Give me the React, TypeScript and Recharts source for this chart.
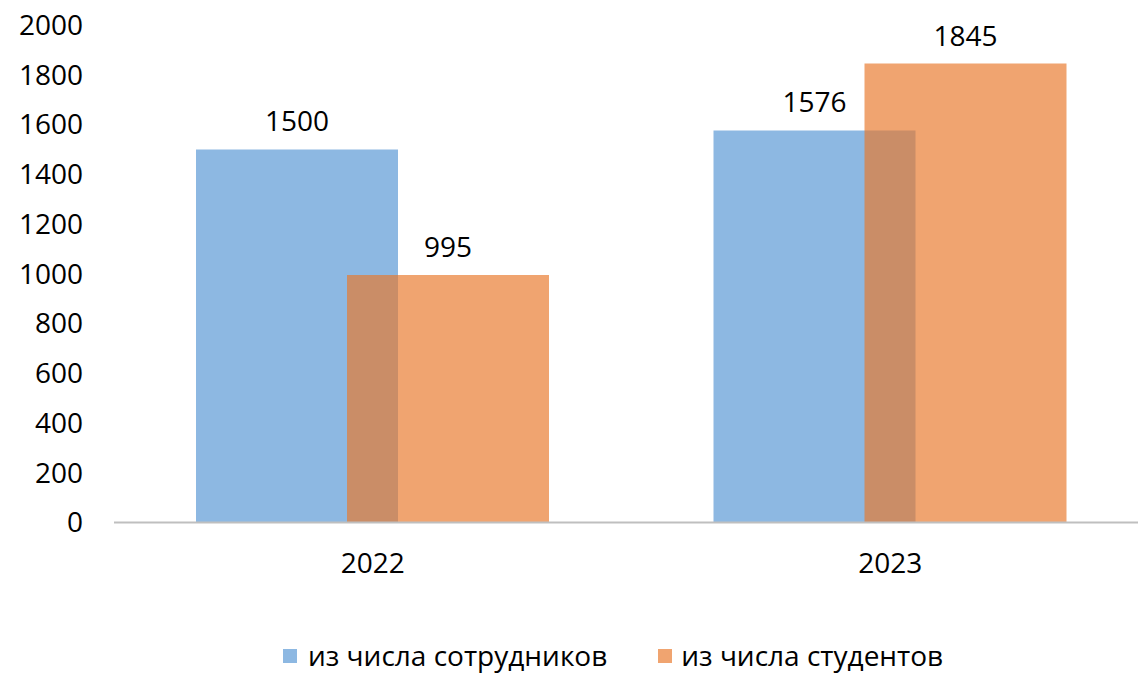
import { BarChart, Bar, XAxis, YAxis, Legend, LabelList } from 'recharts';

const years = ['2022', '2023'];
const staff = [1500, 1576];
const students = [995, 1845];
const yTicks = [0, 200, 400, 600, 800, 1000, 1200, 1400, 1600, 1800, 2000];
const seriesNames = ['из числа сотрудников', 'из числа студентов'];

const data = years.map((year, i) => ({ year, staff: staff[i], students: students[i] }));

const FONT = '"Open Sans", sans-serif';
const BLUE = '#8DB8E2';
const ORANGE = '#E9772A';
const ORANGE_OPACITY = 0.67;

const LegendBox = () => (
  <div style={{ display: 'flex', alignItems: 'center', fontFamily: FONT, fontSize: 28, lineHeight: 1.4, color: '#000', whiteSpace: 'nowrap' }}>
    <span style={{ width: 14, height: 14, background: BLUE, display: 'inline-block', marginRight: 11 }} />
    <span>{seriesNames[0]}</span>
    <span style={{ width: 14, height: 14, background: ORANGE, opacity: ORANGE_OPACITY, display: 'inline-block', marginLeft: 51, marginRight: 9 }} />
    <span>{seriesNames[1]}</span>
  </div>
);

export default function App() {
  return (
    <div style={{ position: 'absolute', left: 0, top: 0, background: '#fff' }}>
      <BarChart
        width={1138}
        height={674}
        data={data}
        margin={{ top: 25, right: -11, left: 0, bottom: 91.5 }}
        barSize={202}
        barGap={-51}
      >
        <XAxis
          dataKey="year"
          height={60}
          tickLine={false}
          tickSize={0}
          tickMargin={31}
          axisLine={{ stroke: '#BFBFBF', strokeWidth: 2 }}
          tick={{ fill: '#000', fontSize: 28, fontFamily: FONT }}
        />
        <YAxis
          width={114}
          domain={[0, 2000]}
          ticks={yTicks}
          interval={0}
          axisLine={false}
          tickLine={false}
          tickSize={0}
          tickMargin={31}
          tick={{ fill: '#000', fontSize: 28, fontFamily: FONT }}
        />
        <Legend
          verticalAlign="middle"
          layout="horizontal"
          content={() => <LegendBox />}
          wrapperStyle={{ left: 283, top: 636, width: 720 }}
        />
        <Bar dataKey="staff" name={seriesNames[0]} fill={BLUE} isAnimationActive={false}>
          <LabelList dataKey="staff" position="top" offset={18} fill="#000" fontSize={28} fontFamily={FONT} />
        </Bar>
        <Bar dataKey="students" name={seriesNames[1]} fill={ORANGE} fillOpacity={ORANGE_OPACITY} isAnimationActive={false}>
          <LabelList dataKey="students" position="top" offset={18} fill="#000" fontSize={28} fontFamily={FONT} />
        </Bar>
      </BarChart>
    </div>
  );
}
